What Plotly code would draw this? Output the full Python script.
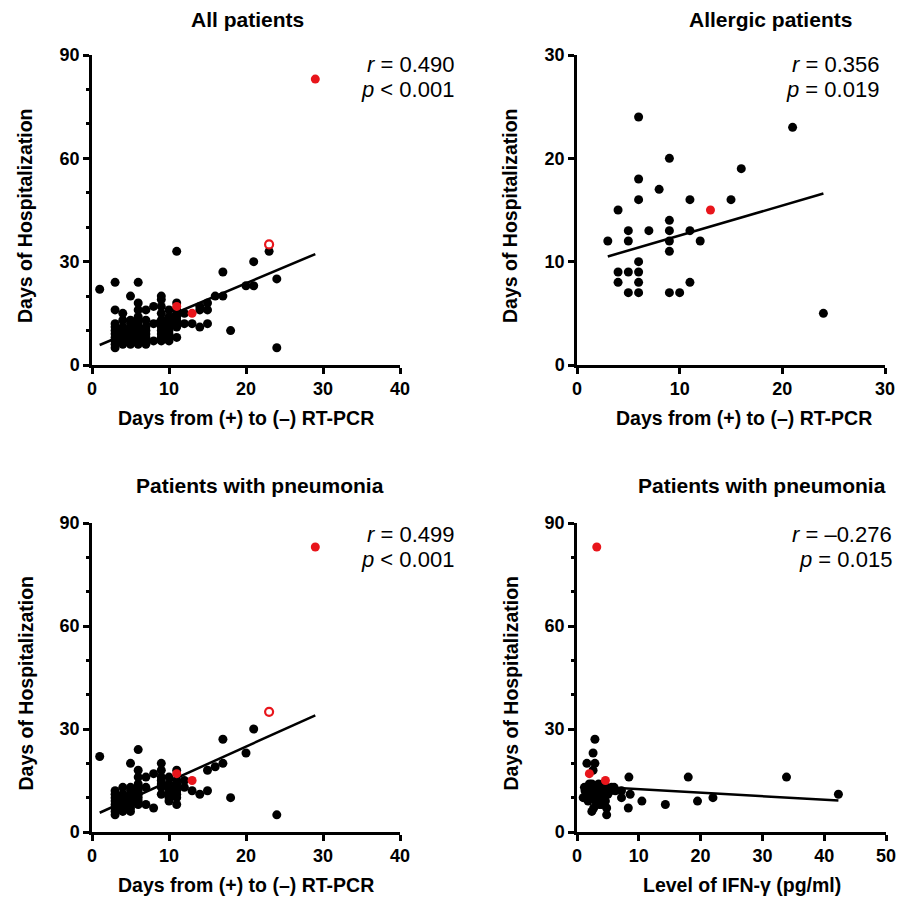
import plotly.graph_objects as go

# ---------------- data ----------------
# Panel A: All patients  (x = days from (+) to (-) RT-PCR, y = days of hospitalization)
a_x = [1, 3, 6, 5, 11, 17, 21, 23, 24, 20, 21, 16, 17, 18, 24,
       3, 3, 3, 3, 3, 3, 3, 3, 3,
       4, 4, 4, 4, 4, 4, 4, 4,
       5, 5, 5, 5, 5, 5, 5, 5,
       6, 6, 6, 6, 6, 6, 6, 6, 6, 6, 6,
       7, 7, 7, 7, 7, 7, 7, 7,
       8, 8, 8,
       9, 9, 9, 9, 9, 9, 9, 9, 9, 9, 9,
       10, 10, 10, 10, 10, 10, 10, 10, 10,
       11, 11, 11, 11, 11, 11, 11, 11,
       12, 12, 13, 14, 14, 14, 15, 15, 15]
a_y = [22, 24, 24, 20, 33, 27, 30, 33, 25, 23, 23, 20, 20, 10, 5,
       16, 12, 11, 10, 9, 8, 7, 6, 5,
       15, 13, 11, 10, 9, 8, 7, 6,
       13, 12, 11, 10, 9, 8, 7, 6,
       18, 16, 14, 13, 12, 11, 10, 9, 8, 7, 6,
       16, 13, 11, 10, 9, 8, 7, 6,
       17, 12, 7,
       20, 19, 17, 15, 13, 12, 11, 10, 9, 8, 7,
       16, 14, 13, 12, 11, 10, 9, 8, 7,
       18, 16, 15, 14, 13, 12, 11, 8,
       15, 12, 12, 17, 16, 11, 18, 16, 12]
a_red_x = [11, 13, 29]
a_red_y = [17, 15, 83]
a_open_x = [23]
a_open_y = [35]
a_fit = dict(slope=0.943, intercept=4.86, x0=1, x1=29)

# Panel B: Allergic patients
b_x = [6, 21, 9, 16, 6, 8, 6, 11, 15, 4, 9, 5, 7, 9, 11, 3, 5, 9, 12, 9,
       6, 4, 5, 6, 4, 6, 11, 5, 6, 9, 10, 24]
b_y = [24, 23, 20, 19, 18, 17, 16, 16, 16, 15, 14, 13, 13, 13, 13, 12, 12, 12, 12, 11,
       10, 9, 9, 9, 8, 8, 8, 7, 7, 7, 7, 5]
b_red_x = [13]
b_red_y = [15]
b_fit = dict(slope=0.29, intercept=9.63, x0=3, x1=24)

# Panel C: Patients with pneumonia (days RT-PCR)
c_x = [1, 6, 5, 17, 21, 20, 16, 17, 15, 18, 24, 14, 15, 13,
       3, 3, 3, 3, 3, 3, 3, 3,
       4, 4, 4, 4, 4, 4, 4,
       5, 5, 5, 5, 5, 5, 5, 5,
       6, 6, 6, 6, 6, 6, 6, 6, 6,
       7, 7, 7,
       8, 8,
       9, 9, 9, 9, 9, 9, 9,
       10, 10, 10, 10, 10, 10, 10,
       11, 11, 11, 11, 11, 11, 11, 11,
       12, 12]
c_y = [22, 24, 20, 27, 30, 23, 19, 20, 18, 10, 5, 11, 12, 12,
       12, 11, 10, 9, 8, 7, 6, 5,
       13, 11, 10, 9, 8, 7, 6,
       13, 12, 11, 10, 9, 8, 7, 6,
       18, 16, 14, 13, 12, 11, 10, 9, 8,
       16, 13, 8,
       17, 7,
       20, 18, 16, 15, 14, 13, 11,
       16, 14, 13, 12, 11, 10, 9,
       18, 15, 14, 13, 12, 11, 10, 8,
       15, 13]
c_red_x = [11, 13, 29]
c_red_y = [17, 15, 83]
c_open_x = [23]
c_open_y = [35]
c_fit = dict(slope=1.014, intercept=4.59, x0=1, x1=29)

# Panel D: Patients with pneumonia (IFN-gamma)
d_x = [2.9, 2.6, 1.6, 2.9, 2.6, 8.4, 18.0, 33.9, 42.3, 22.0, 19.5, 14.3, 10.5, 8.6,
       7.2, 7.2, 8.3, 6.0, 4.8, 4.8, 2.4,
       1.0, 1.3, 1.5, 1.8, 2.0, 2.2, 2.4, 2.6, 2.8, 3.0, 3.2, 3.4, 3.5, 3.7,
       3.9, 4.0, 4.2, 4.4, 4.6, 4.8, 5.0, 3.0, 2.0, 3.6, 4.3, 1.8, 2.7, 5.4,
       5.6, 6.2, 1.2, 3.3]
d_y = [27, 23, 20, 20, 18, 16, 16, 16, 11, 10, 9, 8, 9, 11,
       10, 12, 7, 13, 5, 7, 6,
       10, 12, 11, 13, 10, 12, 14, 11, 13, 9, 12, 10, 14, 11,
       13, 8, 12, 10, 9, 13, 11, 11, 14, 8, 14, 9, 7, 12,
       13, 12, 13, 13]
d_red_x = [3.2, 2.0, 4.6]
d_red_y = [83, 17, 15]
d_fit = dict(slope=-0.103, intercept=13.5, x0=1, x1=42.3)

stats = [
    ("<i>r</i> = 0.490", "<i>p</i> &lt; 0.001"),
    ("<i>r</i> = 0.356", "<i>p</i> = 0.019"),
    ("<i>r</i> = 0.499", "<i>p</i> &lt; 0.001"),
    ("<i>r</i> = \u20130.276", "<i>p</i> = 0.015"),
]
titles = ["All patients", "Allergic patients", "Patients with pneumonia", "Patients with pneumonia"]
xtitles = ["Days from (+) to (\u2013) RT-PCR", "Days from (+) to (\u2013) RT-PCR",
           "Days from (+) to (\u2013) RT-PCR", "Level of IFN-\u03b3 (pg/ml)"]
ytitle = "Days of Hospitalization"

# ---------------- layout helpers ----------------
W, H = 912, 907
OFF = 8  # page body margin
FONT = "Arial, 'Liberation Sans', sans-serif"
BLACK = "#000000"
RED = "#e8151b"

def fx(p):
    return (p - OFF) / W

def fy(p):
    return 1 - (p - OFF) / H

# pixel boxes of plot areas (page coords): (left, right, top, bottom)
boxes = [(92, 400, 55, 365), (577, 885, 55, 365), (92, 400, 523, 832), (577, 886, 523, 832)]
xranges = [[0, 40], [0, 30], [0, 40], [0, 50]]
yranges = [[0, 90], [0, 30], [0, 90], [0, 90]]
yticks = [[0, 30, 60, 90], [0, 10, 20, 30], [0, 30, 60, 90], [0, 30, 60, 90]]
xticks = [[0, 10, 20, 30, 40], [0, 10, 20, 30], [0, 10, 20, 30, 40], [0, 10, 20, 30, 40, 50]]
title_cx = [247, 770, 260, 762]
title_cy = [20, 20, 486, 486]
xtitle_cx = [246, 744, 246, 742]

panels = [
    (a_x, a_y, a_red_x, a_red_y, a_open_x, a_open_y, a_fit),
    (b_x, b_y, b_red_x, b_red_y, [], [], b_fit),
    (c_x, c_y, c_red_x, c_red_y, c_open_x, c_open_y, c_fit),
    (d_x, d_y, d_red_x, d_red_y, [], [], d_fit),
]

fig = go.Figure()
annotations = []
layout = {}
MS = 9

for i, (px, py, rx, ry, ox, oy, fit) in enumerate(panels):
    n = i + 1
    xa = "x" if n == 1 else f"x{n}"
    ya = "y" if n == 1 else f"y{n}"
    lx = [fit["x0"], fit["x1"]]
    ly = [fit["slope"] * v + fit["intercept"] for v in lx]
    fig.add_trace(go.Scatter(x=lx, y=ly, mode="lines", line=dict(color=BLACK, width=2.5),
                             xaxis=xa, yaxis=ya, showlegend=False, hoverinfo="skip"))
    fig.add_trace(go.Scatter(x=px, y=py, mode="markers",
                             marker=dict(color=BLACK, size=MS, line=dict(width=0)),
                             xaxis=xa, yaxis=ya, showlegend=False, cliponaxis=False))
    fig.add_trace(go.Scatter(x=rx, y=ry, mode="markers",
                             marker=dict(color=RED, size=MS, line=dict(width=0)),
                             xaxis=xa, yaxis=ya, showlegend=False, cliponaxis=False))
    if ox:
        fig.add_trace(go.Scatter(x=ox, y=oy, mode="markers",
                                 marker=dict(color="white", size=MS - 1, line=dict(width=2.2, color=RED)),
                                 xaxis=xa, yaxis=ya, showlegend=False, cliponaxis=False))

    l, r, t, b = boxes[i]
    axis_common = dict(showline=True, linecolor=BLACK, linewidth=2.5, ticks="outside",
                       ticklen=6, tickwidth=2.5, tickcolor=BLACK, showgrid=False, zeroline=False,
                       tickfont=dict(family=FONT, size=18, color=BLACK, weight="bold"),
                       automargin=False, fixedrange=True)
    xkey = "xaxis" if n == 1 else f"xaxis{n}"
    ykey = "yaxis" if n == 1 else f"yaxis{n}"
    layout[xkey] = dict(axis_common, domain=[fx(l), fx(r)], range=xranges[i],
                        tickmode="array", tickvals=xticks[i], anchor=ya)
    ydict = dict(axis_common, domain=[fy(b), fy(t)], range=yranges[i],
                 tickmode="array", tickvals=yticks[i], anchor=xa)
    if yranges[i][1] == 90:
        ydict["minor"] = dict(tickmode="array", tickvals=[10, 20, 40, 50, 70, 80],
                              ticks="outside", ticklen=3, tickwidth=2.5, tickcolor=BLACK)
    layout[ykey] = ydict

    annotations.append(dict(text=titles[i], x=fx(title_cx[i]), y=fy(title_cy[i]), xref="paper",
                            yref="paper", showarrow=False, xanchor="center", yanchor="middle",
                            font=dict(family=FONT, size=21, color=BLACK, weight="bold")))
    annotations.append(dict(text=xtitles[i], x=fx(xtitle_cx[i]), y=fy(b + 53), xref="paper",
                            yref="paper", showarrow=False, xanchor="center", yanchor="middle",
                            font=dict(family=FONT, size=19.5, color=BLACK, weight="bold")))
    annotations.append(dict(text=ytitle, x=fx(l - 67), y=fy((t + b) / 2 + 6), xref="paper",
                            yref="paper", showarrow=False, xanchor="center", yanchor="middle",
                            textangle=-90,
                            font=dict(family=FONT, size=19.5, color=BLACK, weight="bold")))
    right_edge = [456, 881, 456, 894][i]
    y1 = t + 9 if i < 2 else t + 11
    for k, txt in enumerate(stats[i]):
        annotations.append(dict(text=txt, x=fx(right_edge), y=fy(y1 + 25 * k), xref="paper",
                                yref="paper", showarrow=False, xanchor="right", yanchor="middle",
                                font=dict(family=FONT, size=22, color=BLACK)))

fig.update_layout(width=W, height=H, margin=dict(l=0, r=0, t=0, b=0),
                  paper_bgcolor="white", plot_bgcolor="white", annotations=annotations,
                  **layout)
fig.write_html("out.html")
